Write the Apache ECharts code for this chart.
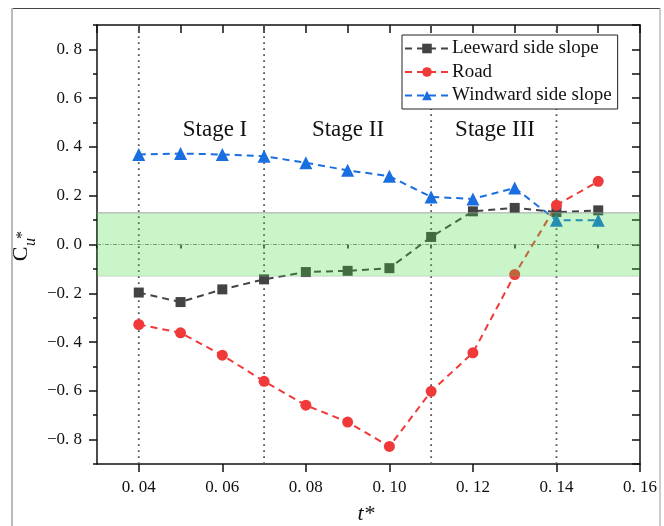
<!DOCTYPE html>
<html>
<head>
<meta charset="utf-8">
<title>Cu* vs t*</title>
<script src="https://cdn.jsdelivr.net/npm/echarts@6/dist/echarts.min.js"></script>
<style>
  html, body { margin: 0; padding: 0; background: #fff; }
  #main { width: 664px; height: 526px; }
</style>
</head>
<body>
<div id="main"></div>
<script>
// data
var tValues = [0.04, 0.05, 0.06, 0.07, 0.08, 0.09, 0.10, 0.11, 0.12, 0.13, 0.14, 0.15];
var leeward = [-0.197, -0.236, -0.184, -0.143, -0.113, -0.108, -0.097, 0.031, 0.136, 0.150, 0.133, 0.140];
var road = [-0.328, -0.362, -0.454, -0.561, -0.659, -0.728, -0.828, -0.602, -0.444, -0.123, 0.161, 0.259];
var windward = [0.369, 0.373, 0.369, 0.362, 0.335, 0.304, 0.280, 0.195, 0.187, 0.232, 0.099, 0.099];
var seriesNames = ['Leeward side slope', 'Road', 'Windward side slope'];

var stageBounds = [0.04, 0.07, 0.11, 0.14];   // dotted stage separators
var band = [-0.13, 0.13];                      // green band
var xMajor = [0.04, 0.06, 0.08, 0.10, 0.12, 0.14, 0.16];
var xMinor = [0.03, 0.05, 0.07, 0.09, 0.11, 0.13, 0.15];
var yMajor = [-0.8, -0.6, -0.4, -0.2, 0, 0.2, 0.4, 0.6, 0.8];
var yMinor = [-0.9, -0.7, -0.5, -0.3, -0.1, 0.1, 0.3, 0.5, 0.7, 0.9];

var serif = '"Liberation Serif", "DejaVu Serif", serif';
var X_MIN = 0.03, X_MAX = 0.16, Y_MIN = -0.9, Y_MAX = 0.9;

function pairs(vals) {
    return tValues.map(function (t, i) { return [t, vals[i]]; });
}
function fmtX(v) { return v.toFixed(2).replace('.', '. '); }
function fmtY(v) {
    var s = Math.abs(v).toFixed(1).replace('.', '. ');
    return v < -1e-9 ? '\u2212' + s : s;
}

var myChart = echarts.init(document.getElementById('main'));

var axisLine = { show: true, onZero: false, lineStyle: { color: '#111', width: 1.5 } };

function lineSeries(name, vals, color, symbol, size) {
    return {
        name: name,
        type: 'line',
        data: pairs(vals),
        symbol: symbol,
        symbolSize: size,
        z: 3,
        itemStyle: { color: color },
        lineStyle: { color: color, width: 2, type: [7, 5] }
    };
}

var option = {
    animation: false,
    backgroundColor: '#fff',
    grid: { left: 97, right: 24, top: 25, bottom: 62 },
    legend: {
        data: seriesNames,
        orient: 'vertical',
        left: 402,
        top: 35,
        padding: [4, 6, 4, 2],
        itemGap: 4.5,
        itemWidth: 44,
        itemHeight: 12,
        borderColor: '#222',
        borderWidth: 1,
        backgroundColor: '#fff',
        textStyle: { fontFamily: serif, fontSize: 19, lineHeight: 19, color: '#111', padding: [0, 0, 0, -2] }
    },
    xAxis: [{
        type: 'value', position: 'bottom', min: X_MIN, max: X_MAX, interval: 0.01,
        axisLine: axisLine,
        axisTick: { show: true, customValues: xMajor, length: 8, lineStyle: { color: '#111', width: 1.5 } },
        axisLabel: { customValues: xMajor, formatter: fmtX, margin: 15, fontFamily: serif, fontSize: 17, color: '#111' },
        splitLine: { show: false }
    }, {
        type: 'value', position: 'bottom', min: X_MIN, max: X_MAX, interval: 0.01,
        axisLine: { show: false },
        axisTick: { show: true, customValues: xMinor, length: 4, lineStyle: { color: '#111', width: 1.5 } },
        axisLabel: { show: false },
        splitLine: { show: false }
    }, {
        type: 'value', position: 'top', min: X_MIN, max: X_MAX, interval: 0.01,
        axisLine: axisLine,
        axisTick: { show: true, inside: true, length: 8, lineStyle: { color: '#111', width: 1.5 } },
        axisLabel: { show: false },
        splitLine: { show: false }
    }],
    yAxis: [{
        type: 'value', position: 'left', min: Y_MIN, max: Y_MAX, interval: 0.1,
        axisLine: axisLine,
        axisTick: { show: true, customValues: yMajor, length: 8, lineStyle: { color: '#111', width: 1.5 } },
        axisLabel: { customValues: yMajor, formatter: fmtY, margin: 15, fontFamily: serif, fontSize: 17, color: '#111' },
        splitLine: { show: false }
    }, {
        type: 'value', position: 'left', min: Y_MIN, max: Y_MAX, interval: 0.1,
        axisLine: { show: false },
        axisTick: { show: true, customValues: yMinor, length: 4, lineStyle: { color: '#111', width: 1.5 } },
        axisLabel: { show: false },
        splitLine: { show: false }
    }, {
        type: 'value', position: 'right', min: Y_MIN, max: Y_MAX, interval: 0.1,
        axisLine: axisLine,
        axisTick: { show: true, inside: true, length: 8, lineStyle: { color: '#111', width: 1.5 } },
        axisLabel: { show: false },
        splitLine: { show: false }
    }],
    graphic: [
        // figure frame
        { type: 'line', shape: { x1: 12, y1: 8.5, x2: 660, y2: 8.5 }, style: { stroke: '#444', lineWidth: 1 }, z: 0 },
        { type: 'line', shape: { x1: 12, y1: 8, x2: 12, y2: 526 }, style: { stroke: '#bbb', lineWidth: 2 }, z: 0 },
        { type: 'line', shape: { x1: 660, y1: 8, x2: 660, y2: 526 }, style: { stroke: '#999', lineWidth: 1 }, z: 0 },
        // stage labels
        { type: 'text', x: 215, y: 130, style: { text: 'Stage I', fontFamily: serif, fontSize: 23, fill: '#111', align: 'center', verticalAlign: 'middle' }, z: 20 },
        { type: 'text', x: 348, y: 130, style: { text: 'Stage II', fontFamily: serif, fontSize: 23, fill: '#111', align: 'center', verticalAlign: 'middle' }, z: 20 },
        { type: 'text', x: 495, y: 130, style: { text: 'Stage III', fontFamily: serif, fontSize: 23, fill: '#111', align: 'center', verticalAlign: 'middle' }, z: 20 },
        // axis titles
        {
            type: 'group', x: 21, y: 254, rotation: Math.PI / 2,
            children: [
                { type: 'text', x: 0, y: 0, style: { text: 'C', fontFamily: serif, fontSize: 22, fill: '#111', align: 'center', verticalAlign: 'middle' } },
                { type: 'text', x: 8, y: 10, style: { text: 'u', fontFamily: serif, fontStyle: 'italic', fontSize: 16, fill: '#111', align: 'left', verticalAlign: 'middle' } },
                { type: 'text', x: 15, y: 2, style: { text: '*', fontFamily: serif, fontSize: 16, fill: '#111', align: 'left', verticalAlign: 'middle' } }
            ]
        },
        { type: 'text', x: 366, y: 514, style: { text: 't*', fontFamily: serif, fontStyle: 'italic', fontSize: 22, fill: '#111', align: 'center', verticalAlign: 'middle' } }
    ],
    series: [{
        // stage separators and zero line
        type: 'custom',
        z: 1,
        silent: true,
        data: stageBounds.map(function (x) { return [x]; }),
        encode: { x: 0 },
        renderItem: function (params, api) {
            var x = api.value(0);
            var a = api.coord([x, Y_MIN]);
            var b = api.coord([x, Y_MAX]);
            var children = [{
                type: 'line',
                shape: { x1: a[0], y1: a[1], x2: b[0], y2: b[1] },
                style: { stroke: '#555', lineWidth: 1.8, lineDash: [1.8, 4.2] }
            }];
            if (params.dataIndex === 0) {
                var l = api.coord([X_MIN, 0]);
                var r = api.coord([X_MAX, 0]);
                children.push({
                    type: 'line',
                    shape: { x1: l[0], y1: l[1], x2: r[0], y2: r[1] },
                    style: { stroke: '#888', lineWidth: 1, lineDash: [4, 1.5, 1, 1.5] }
                });
            }
            return { type: 'group', children: children };
        }
    },
        lineSeries(seriesNames[0], leeward, '#434343', 'rect', 10),
        lineSeries(seriesNames[1], road, '#f03a3a', 'circle', 11),
        lineSeries(seriesNames[2], windward, '#1a6fe0', 'triangle', 13),
    {
        // translucent green band drawn over the data
        type: 'custom',
        z: 10,
        silent: true,
        data: [[X_MIN, band[0], band[1]]],
        encode: { x: 0, y: [1, 2] },
        renderItem: function (params, api) {
            var p1 = api.coord([X_MIN, api.value(2)]);
            var p2 = api.coord([X_MAX, api.value(1)]);
            return {
                type: 'group',
                children: [{
                    type: 'rect',
                    shape: { x: p1[0], y: p1[1], width: p2[0] - p1[0], height: p2[1] - p1[1] },
                    style: { fill: 'rgba(60,220,60,0.28)' }
                }, {
                    type: 'line',
                    shape: { x1: p1[0], y1: p1[1], x2: p2[0], y2: p1[1] },
                    style: { stroke: 'rgba(150,150,150,0.55)', lineWidth: 1.5 }
                }, {
                    type: 'line',
                    shape: { x1: p1[0], y1: p2[1], x2: p2[0], y2: p2[1] },
                    style: { stroke: 'rgba(150,150,150,0.3)', lineWidth: 1 }
                }]
            };
        }
    }]
};

myChart.setOption(option);
</script>
</body>
</html>
